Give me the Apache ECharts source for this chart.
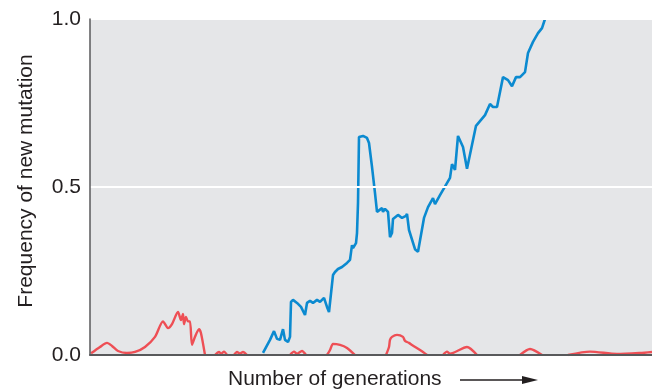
<!DOCTYPE html>
<html>
<head>
<meta charset="utf-8">
<script src="https://cdn.jsdelivr.net/npm/echarts@6/dist/echarts.min.js"></script>
<style>html,body{margin:0;padding:0;background:#fff}#c{width:652px;height:391px}</style>
</head>
<body>
<div id="c"></div>
<script>
// Y axis tick labels
var yTicks = [0.0, 0.5, 1.0];
var yTitle = 'Frequency of new mutation';
var xTitle = 'Number of generations';
var genMax = 562;

// Blue: new mutation that rises to fixation  [generation, frequency]
var blueSeries = [
  [173,0.006],[180,0.045],[184,0.071],[187,0.048],[190,0.045],[193,0.077],[195,0.045],[198,0.039],[200,0.054],
  [201,0.158],[203,0.164],[207,0.155],[211,0.143],[213,0.14],[215,0.119],[217,0.155],[220,0.161],[223,0.155],
  [227,0.164],[230,0.158],[234,0.17],[237,0.143],[239,0.128],[243,0.238],[245,0.247],[248,0.256],[252,0.262],
  [257,0.274],[260,0.283],[262,0.327],[263,0.318],[266,0.333],[267,0.363],[268,0.452],[269,0.649],[273,0.652],
  [277,0.646],[279,0.631],[282,0.56],[285,0.482],[287,0.426],[289,0.423],[292,0.437],[293,0.426],[295,0.435],
  [298,0.426],[300,0.351],[302,0.363],[303,0.405],[308,0.417],[312,0.408],[316,0.414],[317,0.42],[319,0.372],
  [325,0.315],[328,0.307],[334,0.408],[338,0.44],[343,0.467],[345,0.449],[350,0.476],[360,0.527],[362,0.568],
  [365,0.551],[368,0.652],[373,0.619],[377,0.554],[386,0.682],[395,0.714],[400,0.747],[403,0.738],[407,0.738],
  [413,0.827],[418,0.818],[422,0.8],[426,0.827],[430,0.827],[435,0.842],[438,0.899],[443,0.932],[448,0.958],
  [452,0.973],[455,1.0]
];

// Red: new mutations that are repeatedly lost (null = absent)
var redSeries = [
  [1,0.005],[10,0.024],[17,0.036],[22,0.027],[28,0.012],[37,0.006],[45,0.009],[55,0.024],[65,0.054],[73,0.10],
  [78,0.08],[82,0.092],[88,0.128],[91,0.104],[93,0.122],[94,0.092],[96,0.113],[98,0.10],[100,0.10],[102,0.03],
  [105,0.054],[109,0.077],[111,0.065],[115,0],
  [120,null],
  [125,0],[129,0.009],[131,0.004],[134,0.01],[137,0],
  [140,null],
  [144,0],[147,0.009],[150,0.004],[153,0.009],[157,0],
  [180,null],
  [200,0],[204,0.01],[207,0.004],[212,0.012],[216,0],
  [225,null],
  [237,0],[240,0.015],[243,0.033],[250,0.03],[257,0.021],[265,0],
  [280,null],
  [296,0],[299,0.024],[300,0.045],[302,0.054],[307,0.06],[313,0.054],[315,0.042],[319,0.036],[322,0.03],[333,0.009],[337,0],
  [345,null],
  [353,0],[357,0.01],[360,0.004],[377,0.024],[387,0],
  [400,null],
  [430,0],[440,0.018],[452,0],
  [465,null],
  [478,0],[500,0.01],[527,0.003],[550,0.006],[562,0.009]
];

var chart = echarts.init(document.getElementById('c'), null, {renderer:'canvas'});
var FONT = '"Liberation Sans", Arial, Helvetica, sans-serif';
chart.setOption({
  animation: false,
  backgroundColor: '#ffffff',
  grid: {left: 90, right: 0, top: 19, bottom: 36, show: true, backgroundColor: '#e5e6e8', borderWidth: 0},
  xAxis: {
    type: 'value', min: 0, max: genMax, z: 5,
    axisLine: {show: true, lineStyle: {color: '#58595b', width: 2}},
    axisTick: {show: false}, axisLabel: {show: false}, splitLine: {show: false}
  },
  yAxis: {
    type: 'value', min: yTicks[0], max: yTicks[yTicks.length-1], interval: 0.5, z: 5,
    name: yTitle, nameLocation: 'middle', nameGap: 53, nameRotate: 90,
    nameTextStyle: {fontFamily: FONT, fontSize: 21, color: '#231f20', padding: [0, 0, 0, 12]},
    axisLine: {show: true, lineStyle: {color: '#58595b', width: 1.5}},
    axisTick: {show: false},
    axisLabel: {fontFamily: FONT, fontSize: 21, color: '#231f20', margin: 9, formatter: function(v){return v.toFixed(1);}},
    splitLine: {show: true, lineStyle: {color: '#ffffff', width: 2}}
  },
  graphic: [
    {type: 'text', left: 228, top: 369, style: {text: xTitle, font: '21px ' + FONT, fill: '#231f20'}},
    {type: 'line', shape: {x1: 460, y1: 380, x2: 528, y2: 380}, style: {stroke: '#231f20', lineWidth: 1.5}},
    {type: 'polygon', shape: {points: [[522,376],[538,380],[522,384]]}, style: {fill: '#231f20'}}
  ],
  series: [
    {type: 'line', data: redSeries, showSymbol: false, smooth: 0.25, connectNulls: false, clip: true,
     lineStyle: {color: '#ee4f55', width: 2.4}, z: 2},
    {type: 'line', data: blueSeries, showSymbol: false, smooth: false, clip: true,
     lineStyle: {color: '#0b8ad0', width: 2.6}, z: 3}
  ]
});
</script>
</body>
</html>
